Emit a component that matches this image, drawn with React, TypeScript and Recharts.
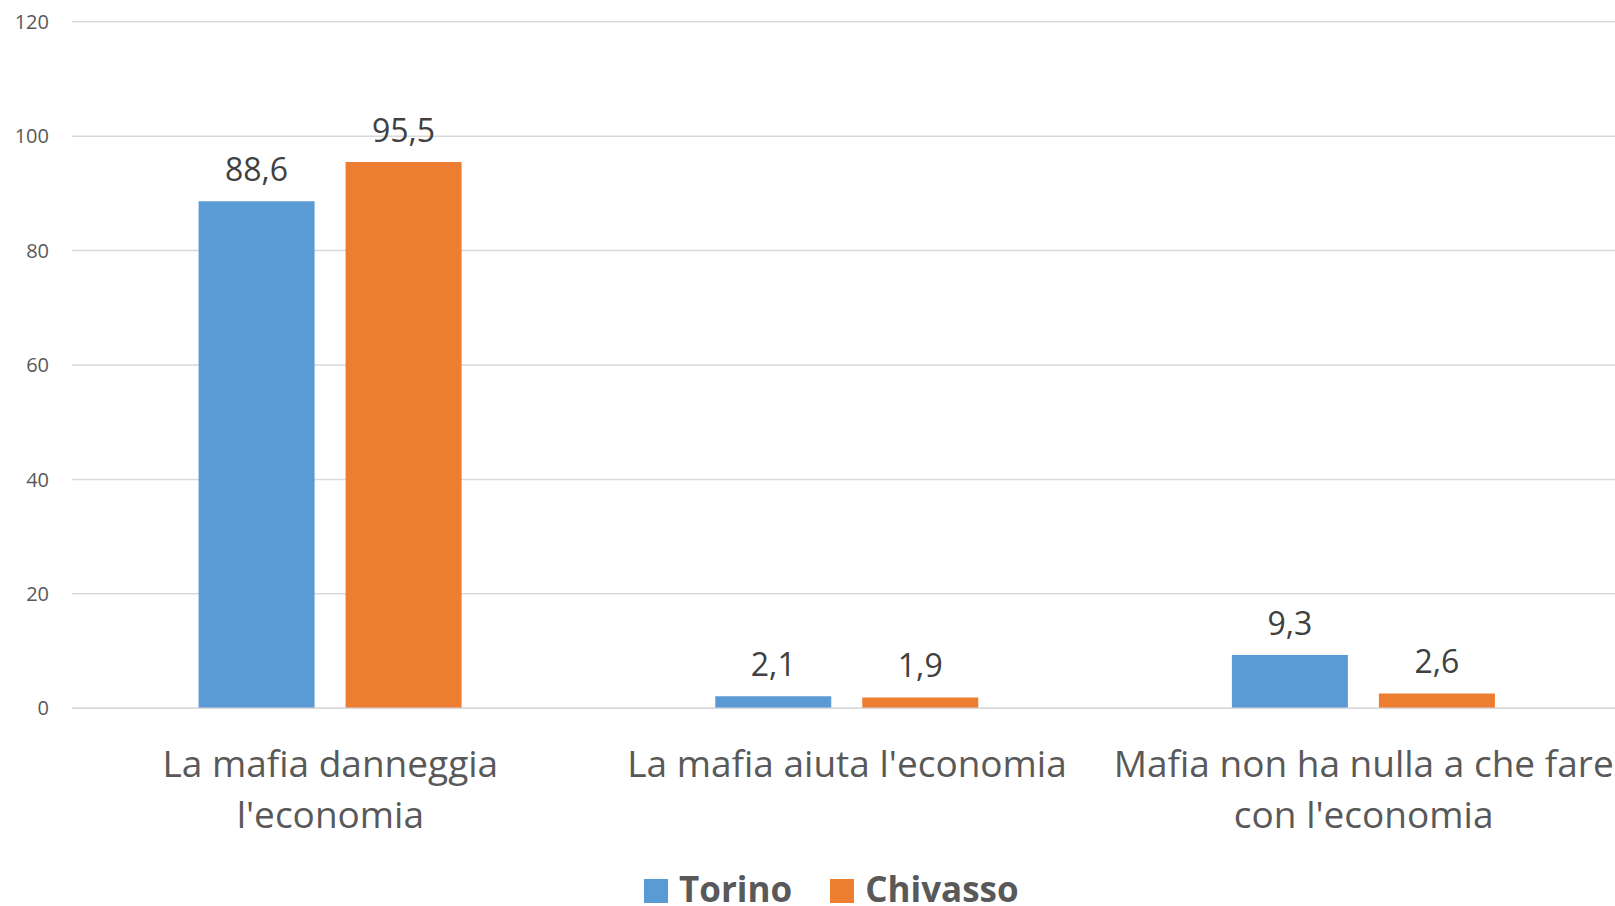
import React from 'react';
import { BarChart, Bar, XAxis, YAxis, CartesianGrid, LabelList, Legend } from 'recharts';

const categoryLines = [
  ["La mafia danneggia", "l'economia"],
  ["La mafia aiuta l'economia"],
  ["Mafia non ha nulla a che fare", "con l'economia"],
];
const categories = categoryLines.map((l) => l.join(' '));
const torino = [88.6, 2.1, 9.3];
const chivasso = [95.5, 1.9, 2.6];
const yTicks = [0, 20, 40, 60, 80, 100, 120];
const seriesNames = ['Torino', 'Chivasso'];
const seriesColors = ['#5B9BD5', '#ED7D31'];

const data = categories.map((c, i) => ({ name: c, Torino: torino[i], Chivasso: chivasso[i] }));

const FONT = '"Open Sans", sans-serif';

const CategoryTick = (props: any) => {
  const { x, y, payload } = props;
  const idx = categories.indexOf(payload.value);
  const lines = idx >= 0 ? categoryLines[idx] : [String(payload.value)];
  return (
    <text x={x} y={y + 69} textAnchor="middle" fontSize={37} fontFamily={FONT} fill="#595959">
      {lines.map((ln, i) => (
        <tspan key={i} x={x} dy={i === 0 ? 0 : 51}>
          {ln}
        </tspan>
      ))}
    </text>
  );
};

const LegendContent = () => (
  <div style={{ display: 'flex', alignItems: 'flex-start', fontFamily: FONT, fontWeight: 700, fontSize: 35, lineHeight: '36px', color: '#595959' }}>
    {seriesNames.map((n, i) => (
      <div key={n} style={{ display: 'flex', alignItems: 'flex-start', marginRight: i === 0 ? 38 : 0 }}>
        <span style={{ display: 'inline-block', width: 24, height: 24, background: seriesColors[i], marginTop: 8, marginRight: 11 }} />
        <span>{n}</span>
      </div>
    ))}
  </div>
);

const fmt = (v: any) => String(v).replace('.', ',');

export default function App() {
  return (
    <div style={{ position: 'fixed', left: 0, top: 0, width: 1615, height: 906, overflow: 'hidden', background: '#fff' }}>
      <BarChart
        width={1622}
        height={906}
        data={data}
        margin={{ top: 21.7, right: 0, bottom: 97.7, left: 0 }}
        barCategoryGap="24.5%"
        barGap={31}
      >
        <CartesianGrid vertical={false} stroke="#d9d9d9" strokeWidth={1.5} />
        <YAxis
          domain={[0, 120]}
          ticks={yTicks}
          width={72}
          axisLine={false}
          tickLine={false}
          tickSize={0}
          tickMargin={23}
          tick={{ fontSize: 20, fill: '#595959', fontFamily: FONT }}
        />
        <XAxis
          dataKey="name"
          height={100}
          axisLine={{ stroke: '#d9d9d9', strokeWidth: 1.5 }}
          tickLine={false}
          tickSize={0}
          tickMargin={0}
          interval={0}
          tick={<CategoryTick />}
        />
        <Legend
          verticalAlign="middle"
          align="center"
          layout="horizontal"
          content={<LegendContent />}
          wrapperStyle={{ top: 870.7, left: 644, width: 'auto', height: 'auto' }}
        />
        {seriesNames.map((n, i) => (
          <Bar key={n} dataKey={n} fill={seriesColors[i]} isAnimationActive={false}>
            <LabelList
              dataKey={n}
              position="top"
              offset={20}
              formatter={fmt}
              style={{ fontSize: 32, fontFamily: FONT, fill: '#404040' }}
            />
          </Bar>
        ))}
      </BarChart>
    </div>
  );
}
